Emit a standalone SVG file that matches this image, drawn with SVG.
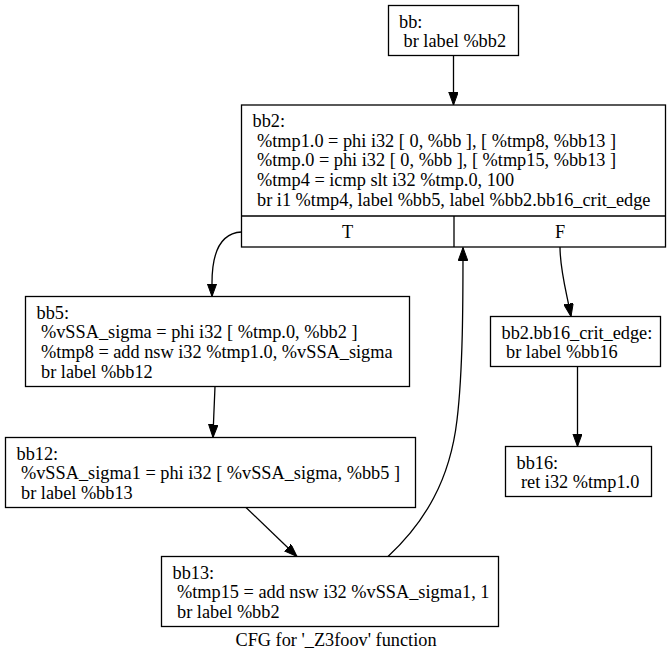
<svg xmlns="http://www.w3.org/2000/svg" width="672" height="664" viewBox="0 0 672 664">
<defs>
<style>
.box{fill:#fff;stroke:#000;stroke-width:1.3}
.t{font-family:"Liberation Serif","Times New Roman",serif;font-size:18.3px;fill:#000}
.e{fill:none;stroke:#000;stroke-width:1.3}
</style>
<marker id="ah" markerUnits="userSpaceOnUse" markerWidth="14" markerHeight="10" refX="13" refY="4.75" orient="auto">
<path d="M0,0 L13,4.75 L0,9.5 z" fill="#000" stroke="#000" stroke-width="1"/>
</marker>
</defs>
<rect width="672" height="664" fill="#fff"/>
<g id="edges">
<path class="e" d="M453.5,55.5 L453.5,105" marker-end="url(#ah)"/>
<path class="e" d="M241.5,232 C222,233 212,250 212,283 L212,296.5" marker-end="url(#ah)"/>
<path class="e" d="M560,247 C560,270 566,290 571,316.5" marker-end="url(#ah)"/>
<path class="e" d="M577.5,366.5 L577.5,446.5" marker-end="url(#ah)"/>
<path class="e" d="M215,386.5 C214.5,400 213.5,420 213,437.5" marker-end="url(#ah)"/>
<path class="e" d="M246,507.5 L297,556.5" marker-end="url(#ah)"/>
<path class="e" d="M388,556.5 C425,522 450,480 457,420 C463,370 463,300 463,247.5" marker-end="url(#ah)"/>
</g>
<g id="bb">
<rect class="box" x="388.5" y="5.5" width="130" height="50"/>
<text class="t" x="399" y="27.5">bb:</text>
<text class="t" x="403.5" y="47">br label %bb2</text>
</g>
<g id="bb2">
<rect class="box" x="241.5" y="105" width="424" height="142"/>
<path class="e" d="M241.5,216 L665.5,216 M454,216 L454,247"/>
<text class="t" x="252.5" y="127">bb2:</text>
<text class="t" x="257" y="146.7">%tmp1.0 = phi i32 [ 0, %bb ], [ %tmp8, %bb13 ]</text>
<text class="t" x="257" y="166.4">%tmp.0 = phi i32 [ 0, %bb ], [ %tmp15, %bb13 ]</text>
<text class="t" x="257" y="186.1">%tmp4 = icmp slt i32 %tmp.0, 100</text>
<text class="t" x="257" y="205.8">br i1 %tmp4, label %bb5, label %bb2.bb16_crit_edge</text>
<text class="t" x="347.5" y="237.5" text-anchor="middle">T</text>
<text class="t" x="560" y="237.5" text-anchor="middle">F</text>
</g>
<g id="bb5">
<rect class="box" x="25.5" y="296.5" width="384" height="90"/>
<text class="t" x="36.5" y="318.5">bb5:</text>
<text class="t" x="41" y="338.2">%vSSA_sigma = phi i32 [ %tmp.0, %bb2 ]</text>
<text class="t" x="41" y="357.9">%tmp8 = add nsw i32 %tmp1.0, %vSSA_sigma</text>
<text class="t" x="41" y="377.6">br label %bb12</text>
</g>
<g id="bb2.bb16_crit_edge">
<rect class="box" x="490.5" y="316.5" width="170" height="50"/>
<text class="t" x="501.5" y="338.5">bb2.bb16_crit_edge:</text>
<text class="t" x="506" y="358">br label %bb16</text>
</g>
<g id="bb12">
<rect class="box" x="5.5" y="437.5" width="410" height="70"/>
<text class="t" x="16.5" y="459.5">bb12:</text>
<text class="t" x="21" y="479.2">%vSSA_sigma1 = phi i32 [ %vSSA_sigma, %bb5 ]</text>
<text class="t" x="21" y="498.9">br label %bb13</text>
</g>
<g id="bb16">
<rect class="box" x="505.5" y="446.5" width="146" height="50"/>
<text class="t" x="516.5" y="468.5">bb16:</text>
<text class="t" x="521" y="488">ret i32 %tmp1.0</text>
</g>
<g id="bb13">
<rect class="box" x="161.5" y="556.5" width="337" height="70"/>
<text class="t" x="172.5" y="578.5">bb13:</text>
<text class="t" x="177" y="598.2">%tmp15 = add nsw i32 %vSSA_sigma1, 1</text>
<text class="t" x="177" y="617.9">br label %bb2</text>
</g>
<text class="t" x="336" y="646" text-anchor="middle">CFG for '_Z3foov' function</text>
</svg>
